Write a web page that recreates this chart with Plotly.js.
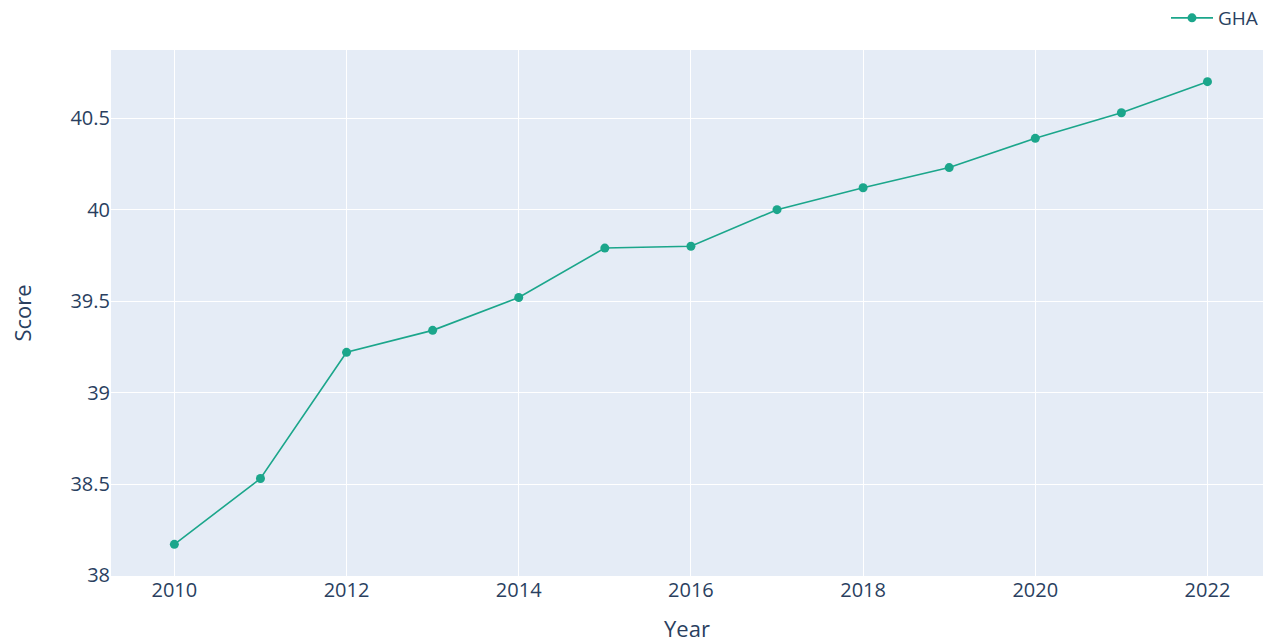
<!DOCTYPE html>
<html>
<head>
<meta charset="utf-8">
<script src="https://cdn.plot.ly/plotly-3.0.1.min.js"></script>
<style>html,body{margin:0;padding:0;background:#fff;}#chart{width:1263px;height:643px;}</style>
</head>
<body>
<div id="chart"></div>
<script>
const years = [2010, 2011, 2012, 2013, 2014, 2015, 2016, 2017, 2018, 2019, 2020, 2021, 2022];
const scores = [38.17, 38.53, 39.22, 39.34, 39.52, 39.79, 39.80, 40.00, 40.12, 40.23, 40.39, 40.53, 40.70];
const seriesName = "GHA";
const xTickVals = [2010, 2012, 2014, 2016, 2018, 2020, 2022];
const yTickVals = [38, 38.5, 39, 39.5, 40, 40.5];
const yTickText = ["38", "38.5", "39", "39.5", "40", "40.5"];

const trace = {
  x: years, y: scores, name: seriesName, type: "scatter", mode: "lines+markers",
  line: {color: "#1ba68b", width: 1.6},
  marker: {color: "#1ba68b", size: 9},
  showlegend: true
};
const layout = {
  width: 1263, height: 643,
  margin: {l: 111, r: 0, t: 50, b: 67, autoexpand: false},
  paper_bgcolor: "#ffffff", plot_bgcolor: "#e5ecf6",
  font: {family: "Open Sans, sans-serif", color: "#2a3f5f", size: 18},
  showlegend: true,
  legend: {orientation: "h", xref: "paper", x: 1, xanchor: "right", yref: "container", y: 0.972, yanchor: "middle", font: {size: 19}, itemwidth: 42},
  xaxis: {
    title: {text: "Year", font: {size: 22}, standoff: 20},
    range: [2009.264, 2022.645], tickvals: xTickVals,
    gridcolor: "#ffffff", gridwidth: 1, zeroline: false, showline: false, ticks: "",
    tickfont: {size: 20}, automargin: false
  },
  yaxis: {
    title: {text: "Score", font: {size: 22}, standoff: 32},
    range: [37.997, 40.873], tickvals: yTickVals, ticktext: yTickText,
    gridcolor: "#ffffff", gridwidth: 1, zeroline: false, showline: false, ticks: "",
    tickfont: {size: 20}, automargin: false
  }
};
Plotly.newPlot("chart", [trace], layout, {displayModeBar: false, responsive: false});
</script>
</body>
</html>
